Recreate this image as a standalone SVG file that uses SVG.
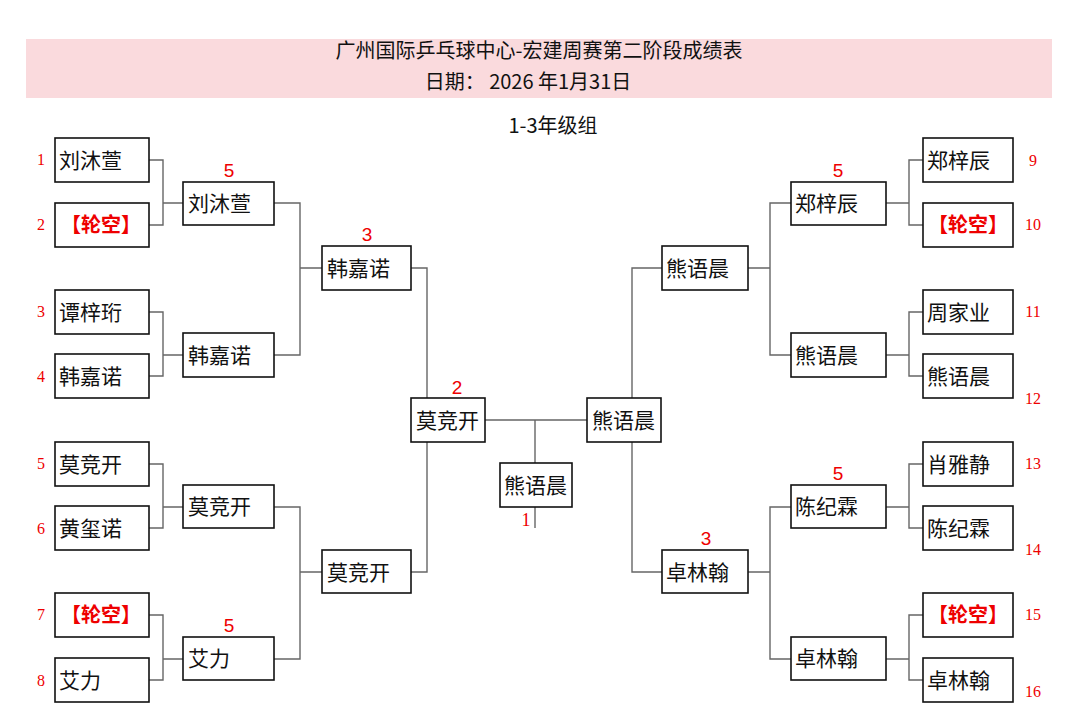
<svg xmlns="http://www.w3.org/2000/svg" width="1080" height="724" viewBox="0 0 1080 724">
<style>
.bx{fill:#fff;stroke:#111;stroke-width:1.6}
.nm{font-family:"Noto Sans CJK SC","Noto Sans",sans-serif;font-size:21px;fill:#111}
.bye{font-family:"Noto Sans CJK SC","Noto Sans",sans-serif;font-size:20px;fill:#e00;font-weight:bold;text-anchor:middle}
.sd{font-family:"Liberation Serif","Noto Sans CJK SC",serif;font-size:16px;fill:#e00;text-anchor:middle}
.sc{font-family:"Liberation Sans",sans-serif;font-size:19px;fill:#e00;text-anchor:middle}
.ttl{font-family:"Noto Sans CJK SC",sans-serif;font-size:20px;fill:#111;text-anchor:middle}
.ln{fill:none;stroke:#666;stroke-width:1.4}
</style>
<rect x="0" y="0" width="1080" height="724" fill="#fff"/>
<rect x="26" y="39" width="1026" height="59" fill="#fadadd"/>
<text class="ttl" x="539" y="58">广州国际乒乓球中心-宏建周赛第二阶段成绩表</text>
<text class="ttl" x="528" y="89">日期：  2026 年1月31日</text>
<text class="ttl" x="553" y="133">1-3年级组</text>

<g id="connectors">
<path class="ln" d="M149,160H163V225H149M163,203H183"/>
<path class="ln" d="M149,312H163V376H149M163,355H183"/>
<path class="ln" d="M149,464H163V528H149M163,507H183"/>
<path class="ln" d="M149,615H163V680H149M163,659H183"/>
<path class="ln" d="M274,203H300V355H274M300,268H322"/>
<path class="ln" d="M274,507H300V659H274M300,572H322"/>
<path class="ln" d="M411,268H427V398M411,572H427V442"/>
<path class="ln" d="M485,420H587M535,420V463M535,507V528"/>
<path class="ln" d="M662,268H632V398M662,572H632V442"/>
<path class="ln" d="M791,203H770V355H791M770,268H748"/>
<path class="ln" d="M791,507H770V659H791M770,572H748"/>
<path class="ln" d="M923,160H909V225H923M909,203H886"/>
<path class="ln" d="M923,312H909V376H923M909,355H886"/>
<path class="ln" d="M923,464H909V528H923M909,507H886"/>
<path class="ln" d="M923,615H909V680H923M909,659H886"/>
</g>

<g id="L1"><rect class="bx" x="55" y="138" width="94" height="44"/><text class="nm" x="59" y="168">刘沐萱</text></g>
<g id="L2"><rect class="bx" x="55" y="203" width="94" height="44"/><text class="bye" x="101" y="232">【轮空】</text></g>
<g id="L3"><rect class="bx" x="55" y="290" width="94" height="44"/><text class="nm" x="59" y="320">谭梓珩</text></g>
<g id="L4"><rect class="bx" x="55" y="354" width="94" height="44"/><text class="nm" x="59" y="384">韩嘉诺</text></g>
<g id="L5"><rect class="bx" x="55" y="442" width="94" height="44"/><text class="nm" x="59" y="472">莫竞开</text></g>
<g id="L6"><rect class="bx" x="55" y="506" width="94" height="44"/><text class="nm" x="59" y="536">黄玺诺</text></g>
<g id="L7"><rect class="bx" x="55" y="593" width="94" height="44"/><text class="bye" x="101" y="622">【轮空】</text></g>
<g id="L8"><rect class="bx" x="55" y="658" width="94" height="44"/><text class="nm" x="59" y="688">艾力</text></g>

<g id="seedsL">
<text class="sd" x="41" y="165">1</text><text class="sd" x="41" y="230">2</text>
<text class="sd" x="41" y="317">3</text><text class="sd" x="41" y="382">4</text>
<text class="sd" x="41" y="469">5</text><text class="sd" x="41" y="534">6</text>
<text class="sd" x="41" y="620">7</text><text class="sd" x="41" y="686">8</text>
</g>

<g id="L2a"><rect class="bx" x="183" y="182" width="91" height="43"/><text class="nm" x="188" y="211">刘沐萱</text></g>
<g id="L2b"><rect class="bx" x="183" y="333" width="91" height="44"/><text class="nm" x="188" y="363">韩嘉诺</text></g>
<g id="L2c"><rect class="bx" x="183" y="485" width="91" height="43"/><text class="nm" x="188" y="514">莫竞开</text></g>
<g id="L2d"><rect class="bx" x="183" y="637" width="91" height="43"/><text class="nm" x="188" y="666">艾力</text></g>

<g id="L3a"><rect class="bx" x="322" y="246" width="89" height="44"/><text class="nm" x="327" y="276">韩嘉诺</text></g>
<g id="L3b"><rect class="bx" x="322" y="550" width="89" height="43"/><text class="nm" x="327" y="580">莫竞开</text></g>

<g id="SL"><rect class="bx" x="411" y="398" width="74" height="44"/><text class="nm" x="416" y="428">莫竞开</text></g>
<g id="SR"><rect class="bx" x="587" y="398" width="74" height="44"/><text class="nm" x="592" y="428">熊语晨</text></g>
<g id="CH"><rect class="bx" x="500" y="463" width="72" height="44"/><text class="nm" x="504" y="493">熊语晨</text></g>

<g id="R3a"><rect class="bx" x="662" y="246" width="86" height="44"/><text class="nm" x="666" y="276">熊语晨</text></g>
<g id="R3b"><rect class="bx" x="662" y="550" width="86" height="43"/><text class="nm" x="666" y="580">卓林翰</text></g>

<g id="R2a"><rect class="bx" x="791" y="182" width="95" height="43"/><text class="nm" x="795" y="211">郑梓辰</text></g>
<g id="R2b"><rect class="bx" x="791" y="333" width="95" height="44"/><text class="nm" x="795" y="363">熊语晨</text></g>
<g id="R2c"><rect class="bx" x="791" y="485" width="95" height="43"/><text class="nm" x="795" y="514">陈纪霖</text></g>
<g id="R2d"><rect class="bx" x="791" y="637" width="95" height="43"/><text class="nm" x="795" y="666">卓林翰</text></g>

<g id="R1"><rect class="bx" x="923" y="138" width="90" height="44"/><text class="nm" x="927" y="168">郑梓辰</text></g>
<g id="R2"><rect class="bx" x="923" y="203" width="90" height="44"/><text class="bye" x="968" y="232">【轮空】</text></g>
<g id="R3"><rect class="bx" x="923" y="290" width="90" height="44"/><text class="nm" x="927" y="320">周家业</text></g>
<g id="R4"><rect class="bx" x="923" y="354" width="90" height="44"/><text class="nm" x="927" y="384">熊语晨</text></g>
<g id="R5"><rect class="bx" x="923" y="442" width="90" height="44"/><text class="nm" x="927" y="472">肖雅静</text></g>
<g id="R6"><rect class="bx" x="923" y="506" width="90" height="44"/><text class="nm" x="927" y="536">陈纪霖</text></g>
<g id="R7"><rect class="bx" x="923" y="593" width="90" height="44"/><text class="bye" x="968" y="622">【轮空】</text></g>
<g id="R8"><rect class="bx" x="923" y="658" width="90" height="44"/><text class="nm" x="927" y="688">卓林翰</text></g>

<g id="seedsR">
<text class="sd" x="1033" y="166">9</text><text class="sd" x="1033" y="230">10</text>
<text class="sd" x="1033" y="317">11</text><text class="sd" x="1033" y="404">12</text>
<text class="sd" x="1033" y="469">13</text><text class="sd" x="1033" y="555">14</text>
<text class="sd" x="1033" y="620">15</text><text class="sd" x="1033" y="697">16</text>
</g>

<g id="scores">
<text class="sc" x="229" y="177">5</text>
<text class="sc" x="229" y="632">5</text>
<text class="sc" x="367" y="241">3</text>
<text class="sc" x="457" y="394">2</text>
<text class="sd" x="526" y="526" style="font-size:18px">1</text>
<text class="sc" x="838" y="177">5</text>
<text class="sc" x="838" y="480">5</text>
<text class="sc" x="706" y="545">3</text>
</g>
</svg>
